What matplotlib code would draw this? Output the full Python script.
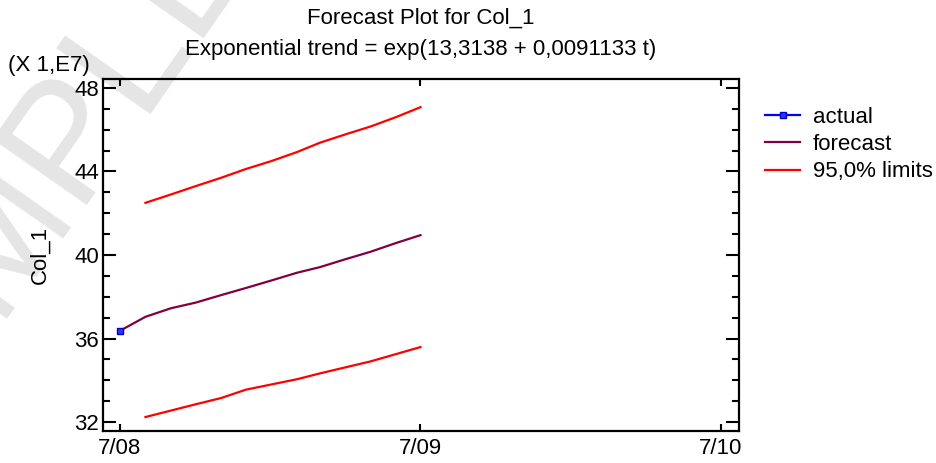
import matplotlib
matplotlib.use("Agg")
import matplotlib.pyplot as plt
import matplotlib.dates as mdates
from matplotlib.ticker import MultipleLocator
import datetime as dt

plt.rcParams['font.family'] = ['Liberation Sans', 'DejaVu Sans']
plt.rcParams['font.size'] = 16

# monthly periods, July 2008 .. July 2009
months = [dt.date(2008, 7, 1), dt.date(2008, 8, 1), dt.date(2008, 9, 1), dt.date(2008, 10, 1),
          dt.date(2008, 11, 1), dt.date(2008, 12, 1), dt.date(2009, 1, 1), dt.date(2009, 2, 1),
          dt.date(2009, 3, 1), dt.date(2009, 4, 1), dt.date(2009, 5, 1), dt.date(2009, 6, 1),
          dt.date(2009, 7, 1)]

# values in units of 1E7
actual = [36.37]
forecast = [36.37, 37.04, 37.45, 37.72, 38.08, 38.42, 38.78, 39.15, 39.42, 39.80, 40.15, 40.57, 40.95]
upper = [42.50, 42.90, 43.30, 43.70, 44.12, 44.50, 44.93, 45.38, 45.78, 46.15, 46.60, 47.08]
lower = [32.24, 32.55, 32.85, 33.15, 33.55, 33.80, 34.05, 34.33, 34.62, 34.90, 35.25, 35.59]

x = mdates.date2num(months)

fig = plt.figure(figsize=(9.36, 4.63), dpi=100)
# faint stamp behind everything
fig.text(0.03, 0.56, "SAMPLE", fontsize=120, color='#e5e5e5', rotation=55,
         ha='center', va='center', zorder=-5)

ax = fig.add_axes([103 / 936, 1 - 431 / 463, 636 / 936, 352 / 463])
ax.set_facecolor('none')

ax.plot(x, forecast, color='#800040', lw=1.6, label='forecast', zorder=3)
ax.plot(x[1:], upper, color='#ff0000', lw=1.6, label='95,0% limits', zorder=3)
ax.plot(x[1:], lower, color='#ff0000', lw=1.6, zorder=3)
ax.plot(x[:1], actual, color='#0000ff', lw=1.6, marker='s', ms=4.5,
        mfc='#3030ff', mec='#0000cc', label='actual', zorder=4)

ax.set_xlim(x[0] - 20.6, mdates.date2num(dt.date(2010, 7, 1)) + 21.9)
ax.set_ylim(31.57, 48.43)

ax.set_xticks(mdates.date2num([dt.date(2008, 7, 1), dt.date(2009, 7, 1), dt.date(2010, 7, 1)]))
ax.set_xticklabels(['7/08', '7/09', '7/10'])
ax.yaxis.set_major_locator(MultipleLocator(4))
ax.yaxis.set_minor_locator(MultipleLocator(1))

for s in ax.spines.values():
    s.set_linewidth(1.6)
ax.tick_params(axis='y', which='major', direction='in', length=9.5, width=1.5,
               left=True, right=True, pad=3)
ax.tick_params(axis='y', which='minor', direction='in', length=5, width=1.5,
               left=True, right=True)
ax.tick_params(axis='x', which='major', direction='in', length=5, width=1.5,
               bottom=True, top=True, pad=5)

ax.set_ylabel('Col_1', labelpad=17)
fig.text(8 / 936, 1 - 66 / 463, '(X 1,E7)', ha='left', va='center')
fig.text(421 / 936, 1 - 18 / 463, 'Forecast Plot for Col_1', ha='center', va='center')
fig.text(421 / 936, 1 - 50 / 463, 'Exponential trend = exp(13,3138 + 0,0091133 t)',
         ha='center', va='center')

h, l = ax.get_legend_handles_labels()
order = [2, 0, 1]
fig.legend([h[i] for i in order], [l[i] for i in order], loc='upper left',
           bbox_to_anchor=(756 / 936, 1 - 98 / 463), frameon=False,
           handlelength=1.6, handletextpad=0.55, labelspacing=0.28, borderaxespad=0)

fig.savefig('out.png', dpi=100)
